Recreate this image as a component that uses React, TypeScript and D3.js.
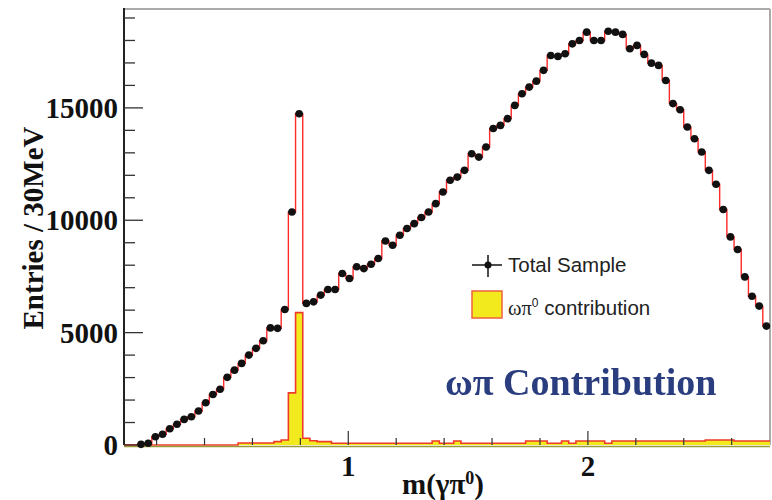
import React from 'react';
import * as d3 from 'd3';

// histogram binning: 30 MeV bins starting at 0.12
const binLow = 0.12;
const binWidth = 0.03;

// Total Sample (data points and red MC outline)
const totalSample = [
  30, 75, 370, 475, 725, 920, 1140, 1260, 1510, 1880,
  2250, 2480, 3010, 3330, 3630, 4000, 4300, 4640, 5210, 5190,
  6030, 10370, 14740, 6300, 6370, 6670, 6920, 6920, 7630, 7410,
  7930, 7850, 8040, 8300, 9080, 8890, 9330, 9630, 9850, 10120,
  10370, 10740, 11260, 11780, 11920, 12220, 12960, 12810, 13260, 14080,
  14220, 14520, 15110, 15630, 15925, 16190, 16670, 17330, 17290, 17410,
  17850, 18000, 18370, 18000, 18000, 18410, 18370, 18270, 17630, 17780,
  17380, 16990, 16890, 16220, 15190, 14920, 14150, 13630, 13040, 12220,
  11600, 10480, 9260, 8700, 7480, 6620, 6180, 5290,
];

// omega pi0 contribution (yellow)
const omegaPi0 = [
  0, 0, 0, 0, 0, 0, 0, 0, 0, 0,
  0, 0, 0, 0, 90, 90, 90, 90, 90, 150,
  220, 2320, 5890, 300, 190, 150, 150, 80, 80, 80,
  80, 80, 80, 80, 80, 80, 80, 80, 80, 80,
  80, 180, 80, 80, 180, 80, 80, 80, 80, 80,
  80, 80, 80, 80, 180, 180, 180, 80, 80, 180,
  80, 180, 180, 180, 180, 80, 180, 180, 180, 180,
  180, 180, 180, 180, 180, 180, 180, 180, 180, 220,
  220, 220, 220, 180, 180, 180, 180, 180,
];

const yMajorTicks = [0, 5000, 10000, 15000];
const yMinorTicks = [1000, 2000, 3000, 4000, 6000, 7000, 8000, 9000, 11000, 12000, 13000, 14000, 16000, 17000, 18000, 19000];
const xMajorTicks = [1, 2];
const xMinorTicks = [0.2, 0.4, 0.6, 0.8, 1.2, 1.4, 1.6, 1.8, 2.2, 2.4, 2.6];

const W = 772;
const H = 500;
const plot = { left: 124, right: 770, top: 9, bottom: 445 };

const serif = '"Liberation Serif", "Times New Roman", serif';
const sans = '"Liberation Sans", Arial, sans-serif';

const App: React.FC = () => {
  const x = d3.scaleLinear().domain([0.064, 2.76]).range([plot.left, plot.right]);
  const y = d3.scaleLinear().domain([0, 19400]).range([plot.bottom, plot.top]);

  const edges = totalSample.map((_, i) => binLow + i * binWidth);
  const lastEdge = binLow + totalSample.length * binWidth;

  // step outline for total
  const totalPts: [number, number][] = [[x.domain()[0], 0], [binLow, 0]];
  totalSample.forEach((v, i) => totalPts.push([edges[i], v]));
  totalPts.push([lastEdge, totalSample[totalSample.length - 1]]);
  const stepLine = d3.line<[number, number]>()
    .x(d => x(d[0]))
    .y(d => y(d[1]))
    .curve(d3.curveStepAfter);

  const omegaPts: [number, number][] = [[x.domain()[0], 0]];
  omegaPi0.forEach((v, i) => omegaPts.push([edges[i], v]));
  omegaPts.push([lastEdge, omegaPi0[omegaPi0.length - 1]]);
  const stepArea = d3.area<[number, number]>()
    .x(d => x(d[0]))
    .y0(plot.bottom)
    .y1(d => y(d[1]))
    .curve(d3.curveStepAfter);

  return (
    <svg width={W} height={H} style={{ position: 'absolute', left: 0, top: 0, background: '#fff' }}>
      <defs>
        <filter id="soft" x="-5%" y="-20%" width="110%" height="140%">
          <feGaussianBlur stdDeviation="0.6" />
        </filter>
      </defs>

      {/* frame */}
      <line x1={plot.left} x2={plot.right} y1={plot.top} y2={plot.top} stroke="#aaa" strokeWidth={2} />
      <line x1={plot.right} x2={plot.right} y1={plot.top} y2={plot.bottom} stroke="#aaa" strokeWidth={2} />

      {/* omega pi0 contribution */}
      <path d={stepArea(omegaPts) || ''} fill="#f3ea1e" stroke="none" />
      <path d={stepLine(omegaPts) || ''} fill="none" stroke="#ee3a2a" strokeWidth={1.6} />

      {/* total outline */}
      <path d={stepLine(totalPts) || ''} fill="none" stroke="#ff2a2a" strokeWidth={1.4} />

      {/* x axis */}
      <line x1={plot.left} x2={plot.right} y1={plot.bottom + 1.5} y2={plot.bottom + 1.5} stroke="#9a9a3a" strokeWidth={1.5} />
      {xMajorTicks.map(t => (
        <g key={'xm' + t}>
          <line x1={x(t)} x2={x(t)} y1={plot.bottom} y2={plot.bottom - 14} stroke="#333" strokeWidth={1.2} />
          <text x={x(t)} y={476} textAnchor="middle" fontFamily={serif} fontWeight="bold" fontSize={29} fill="#111">{t}</text>
        </g>
      ))}
      {xMinorTicks.map(t => (
        <line key={'xn' + t} x1={x(t)} x2={x(t)} y1={plot.bottom} y2={plot.bottom - 7} stroke="#333" strokeWidth={1.2} />
      ))}

      {/* y axis */}
      <line x1={plot.left} x2={plot.left} y1={plot.top - 1} y2={plot.bottom} stroke="#222" strokeWidth={2} />
      {yMajorTicks.map(t => (
        <g key={'ym' + t}>
          <line x1={plot.left} x2={plot.left + 19} y1={y(t)} y2={y(t)} stroke="#333" strokeWidth={1.3} />
          <text x={118} y={y(t) + 10} textAnchor="end" fontFamily={serif} fontWeight="bold" fontSize={29} fill="#111">{t}</text>
        </g>
      ))}
      {yMinorTicks.map(t => (
        <line key={'yn' + t} x1={plot.left} x2={plot.left + 11} y1={y(t)} y2={y(t)} stroke="#333" strokeWidth={1.3} />
      ))}

      {/* data points */}
      {totalSample.map((v, i) => {
        const cx = x(edges[i] + binWidth / 2);
        return (
          <g key={'p' + i}>
            <line x1={x(edges[i])} x2={x(edges[i] + binWidth)} y1={y(v)} y2={y(v)} stroke="#111" strokeWidth={1.6} />
            <circle cx={cx} cy={y(v)} r={3.8} fill="#111" />
          </g>
        );
      })}

      {/* axis titles */}
      <text transform="translate(43,228) rotate(-90)" textAnchor="middle" fontFamily={serif} fontWeight="bold" fontSize={29} fill="#111">
        Entries / 30MeV
      </text>
      <text x={402} y={494} fontFamily={serif} fontWeight="bold" fontSize={29} fill="#111">
        <tspan>m(γπ</tspan>
        <tspan dy={-10} fontSize={18}>0</tspan>
        <tspan dy={10}>)</tspan>
      </text>

      {/* legend */}
      <line x1={472} x2={502} y1={265} y2={265} stroke="#111" strokeWidth={1.5} />
      <line x1={488} x2={488} y1={255} y2={277} stroke="#111" strokeWidth={1.5} />
      <circle cx={488} cy={265} r={3.5} fill="#111" />
      <text x={508} y={272} fontFamily={sans} fontSize={20.5} fill="#222">Total Sample</text>
      <rect x={472} y={291} width={30} height={27} fill="#f3ea1e" stroke="#ee6040" strokeWidth={1.5} />
      <text x={508} y={315} fontFamily={sans} fontSize={20.5} fill="#222">
        <tspan fontFamily={serif}>ωπ</tspan>
        <tspan dy={-8} fontSize={12}>0</tspan>
        <tspan dy={8}> contribution</tspan>
      </text>

      {/* annotation */}
      <text x={445} y={395} fontFamily={serif} fontWeight="bold" fontSize={38} fill="#2b3d7e" filter="url(#soft)">
        ωπ Contribution
      </text>
    </svg>
  );
};

export default App;
